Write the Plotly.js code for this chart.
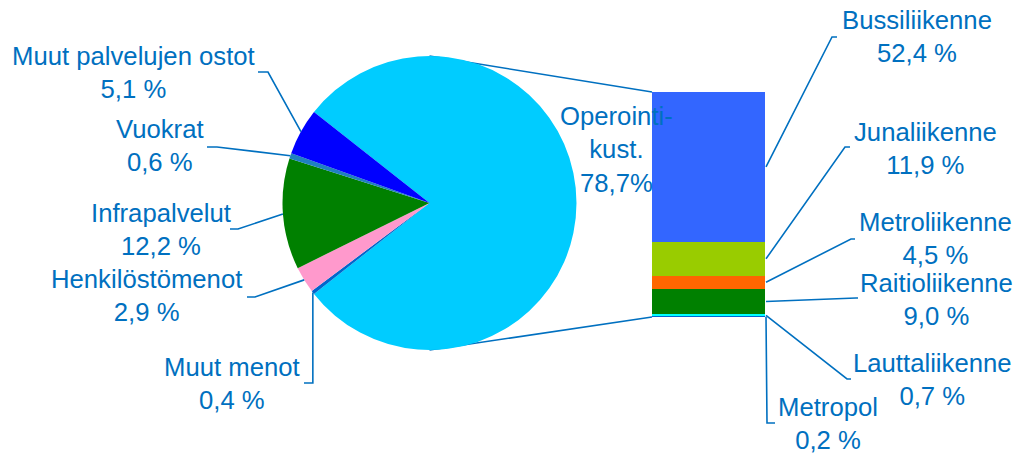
<!DOCTYPE html>
<html>
<head>
<meta charset="utf-8">
<script src="https://cdn.plot.ly/plotly-3.0.1.min.js"></script>
<style>html,body{margin:0;padding:0;background:#fff;}#chart{width:1019px;height:453px;}</style>
</head>
<body>
<div id="chart"></div>
<script>
// ---- data ----
const pieLabels = ['Operointikust.', 'Muut menot', 'Henkilöstömenot', 'Infrapalvelut', 'Vuokrat', 'Muut palvelujen ostot'];
const pieValues = [78.7, 0.4, 2.9, 12.2, 0.6, 5.1];
const barLabels = ['Metropol', 'Lauttaliikenne', 'Raitioliikenne', 'Metroliikenne', 'Junaliikenne', 'Bussiliikenne'];
const barValues = [0.2, 0.7, 9.0, 4.5, 11.9, 52.4];

// ---- styles ----
const pieColors = ['#00CCFF', '#0066CC', '#FF99CC', '#008000', '#1F80C0', '#0000FF'];
const barColors = ['#0066CC', '#00FFFF', '#008000', '#FF6600', '#99CC00', '#3366FF'];
const textColor = '#0070C0';
const lineColor = '#0070C0';
const FONT = 'Liberation Sans, Arial, sans-serif';
const FS = 25.7;

const W = 1019, H = 453;
const px = x => x / W;
const py = y => 1 - y / H;

// layout geometry (pixels)
const pieBox = {x0: 282.5, x1: 576.5, y0: 56, y1: 350};
const barBox = {x0: 652, x1: 765, y0: 92, y1: 317};

// label placement (pixels): centre of text block and short tick near the text
const labelPos = {
  'Muut palvelujen ostot': {x: 133, y: 72, tick: [258, 72, 268, 72]},
  'Vuokrat': {x: 160, y: 145, tick: [207, 147, 217, 147]},
  'Infrapalvelut': {x: 161, y: 229, tick: [230, 229, 238, 229]},
  'Henkilöstömenot': {x: 146, y: 295, tick: [247, 297, 255, 297]},
  'Muut menot': {x: 232, y: 383, tick: [304, 383, null, 383]},
  'Operointikust.': {x: 616, y: 149},
  'Bussiliikenne': {x: 917, y: 37, tick: [837, 37, 832, 37]},
  'Junaliikenne': {x: 925, y: 148, tick: [850, 147, 845, 147]},
  'Metroliikenne': {x: 935, y: 238, tick: [855, 239, 851, 239]},
  'Raitioliikenne': {x: 936, y: 299, tick: [858, 298, 856, 298]},
  'Lauttaliikenne': {x: 932, y: 379, tick: [851, 379, 847, 379]},
  'Metropol': {x: 828, y: 423, tick: [775, 423, 767, 423]}
};

const fmt = v => v.toFixed(1).replace('.', ',');

// ---- pie geometry ----
const pieTotal = pieValues.reduce((a, b) => a + b, 0);
const rotation = 90 - (pieValues[0] / pieTotal) * 180; // main slice centred on the right
const cx = (pieBox.x0 + pieBox.x1) / 2, cy = (pieBox.y0 + pieBox.y1) / 2;
const r = Math.min(pieBox.x1 - pieBox.x0, pieBox.y1 - pieBox.y0) / 2;

const shapes = [];
const annotations = [];

function pathFrom(points) {
  return points.map((p, i) => (i ? 'L' : 'M') + px(p[0]).toFixed(5) + ',' + py(p[1]).toFixed(5)).join(' ');
}
function addPath(points, layer) {
  shapes.push({type: 'path', xref: 'paper', yref: 'paper', path: pathFrom(points),
    line: {color: lineColor, width: 1.6}, layer: layer || 'above'});
}
function addLabel(name, text) {
  const p = labelPos[name];
  annotations.push({xref: 'paper', yref: 'paper', x: px(p.x), y: py(p.y), xanchor: 'center', yanchor: 'middle',
    text: text, showarrow: false, align: 'center', font: {family: FONT, size: FS, color: textColor}});
}

let cum = 0;
pieValues.forEach((v, i) => {
  const mid = rotation + (cum + v / 2) / pieTotal * 360;
  cum += v;
  const a = mid * Math.PI / 180;
  const ex = cx + r * Math.sin(a), ey = cy - r * Math.cos(a);
  const name = pieLabels[i];
  if (i === 0) {
    addLabel(name, 'Operointi-<br>kust.<br>' + fmt(v) + '%');
    return;
  }
  const t = labelPos[name].tick;
  const tx1 = t[2] === null ? ex : t[2];
  addPath([[t[0], t[1]], [tx1, t[3]], [ex, ey]]);
  addLabel(name, name + '<br>' + fmt(v) + ' %');
});

// ---- bar geometry ----
const barTotal = barValues.reduce((a, b) => a + b, 0);
const barPxPerUnit = (barBox.y1 - barBox.y0) / barTotal;
let bc = 0;
barValues.forEach((v, i) => {
  const midY = barBox.y1 - (bc + v / 2) * barPxPerUnit;
  bc += v;
  const name = barLabels[i];
  const t = labelPos[name].tick;
  addPath([[t[0], t[1]], [t[2], t[3]], [barBox.x1 + 1, midY]]);
  addLabel(name, name + '<br>' + fmt(v) + ' %');
});

// connector lines between pie and bar
addPath([[cx, cy - r], [barBox.x0, barBox.y0]], 'below');
addPath([[cx, cy + r], [barBox.x0, barBox.y1]], 'below');

// ---- traces ----
const traces = [{
  type: 'pie', labels: pieLabels, values: pieValues, sort: false, direction: 'clockwise',
  rotation: rotation, textinfo: 'none', hoverinfo: 'label+percent', showlegend: false,
  marker: {colors: pieColors, line: {width: 0}},
  domain: {x: [px(pieBox.x0), px(pieBox.x1)], y: [py(pieBox.y1), py(pieBox.y0)]}
}];
barValues.forEach((v, i) => {
  traces.push({type: 'bar', x: ['Operointikust.'], y: [v], name: barLabels[i], width: 1,
    marker: {color: barColors[i], line: {width: 0}}, showlegend: false, hoverinfo: 'name+y',
    xaxis: 'x', yaxis: 'y'});
});

const layout = {
  width: W, height: H, margin: {l: 0, r: 0, t: 0, b: 0},
  paper_bgcolor: '#ffffff', plot_bgcolor: 'rgba(0,0,0,0)',
  barmode: 'stack', bargap: 0, showlegend: false,
  xaxis: {domain: [px(barBox.x0), px(barBox.x1)], range: [-0.5, 0.5], visible: false, fixedrange: true},
  yaxis: {domain: [py(barBox.y1), py(barBox.y0)], range: [0, barTotal], visible: false, fixedrange: true},
  shapes: shapes, annotations: annotations
};

Plotly.newPlot('chart', traces, layout, {displayModeBar: false, staticPlot: true});
</script>
</body>
</html>
